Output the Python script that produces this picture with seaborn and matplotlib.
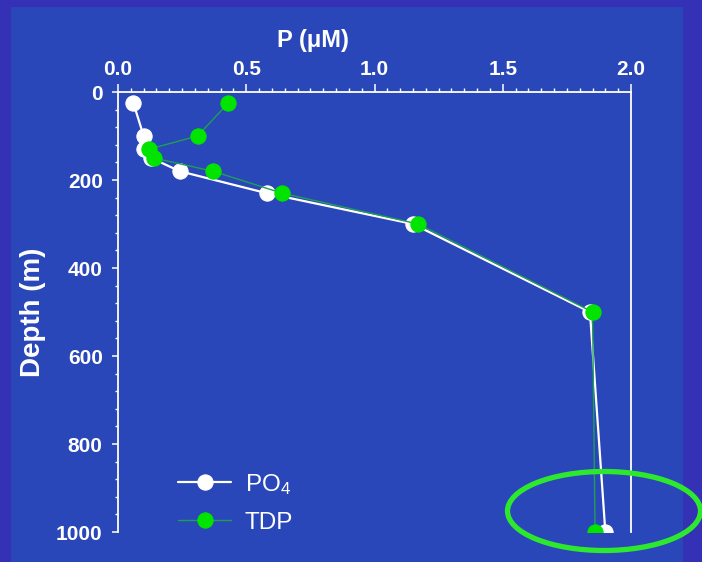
import matplotlib
matplotlib.use("Agg")
import matplotlib.pyplot as plt
from matplotlib.patches import Ellipse, Rectangle
from matplotlib.ticker import MultipleLocator
import seaborn as sns
import pandas as pd

# Phosphorus depth profile (P in µM vs depth in m)
depth_po4 = [25, 100, 130, 150, 180, 230, 300, 500, 1000]
po4 = [0.06, 0.10, 0.10, 0.13, 0.24, 0.58, 1.15, 1.84, 1.90]

depth_tdp = [25, 100, 130, 150, 180, 230, 300, 500, 1000]
tdp = [0.43, 0.31, 0.12, 0.14, 0.37, 0.64, 1.17, 1.85, 1.86]

x_ticks = [0.0, 0.5, 1.0, 1.5, 2.0]
x_tick_labels = ["0.0", "0.5", "1.0", "1.5", "2.0"]
y_ticks = [0, 200, 400, 600, 800, 1000]
y_tick_labels = ["0", "200", "400", "600", "800", "1000"]

sns.set_theme(style="white")
plt.rcParams["font.family"] = ["Liberation Sans", "DejaVu Sans"]
plt.rcParams["mathtext.fontset"] = "custom"
plt.rcParams["mathtext.rm"] = "Liberation Sans"
plt.rcParams["mathtext.it"] = "Liberation Sans"

W, H = 702, 562
fig = plt.figure(figsize=(W / 100, H / 100), dpi=100, facecolor="#3431b6")

# slide panel behind the chart
panel = Rectangle((11 / W, 0), (683 - 11) / W, 1 - 7 / H,
                  transform=fig.transFigure, facecolor="#2947b9",
                  edgecolor="none", zorder=-10)
fig.patches.append(panel)

ax = fig.add_axes([118 / W, 1 - 532 / H, 513 / W, 440 / H])
ax.set_zorder(1)
ax.set_facecolor("none")

df_po4 = pd.DataFrame({"P": po4, "Depth": depth_po4})
df_tdp = pd.DataFrame({"P": tdp, "Depth": depth_tdp})

sns.lineplot(data=df_tdp, x="P", y="Depth", sort=False, estimator=None, orient="y",
             color="#1f9e55", lw=1.0, marker="o", markersize=11,
             markerfacecolor="#00e400", markeredgecolor="#00e400", ax=ax,
             label="TDP", zorder=3)
sns.lineplot(data=df_po4, x="P", y="Depth", sort=False, estimator=None, orient="y",
             color="white", lw=1.6, marker="o", markersize=11,
             markerfacecolor="white", markeredgecolor="white", ax=ax,
             label="PO$_4$", zorder=2)

ax.set_xlim(0, 2.0)
ax.set_ylim(1000, 0)

ax.xaxis.tick_top()
ax.xaxis.set_label_position("top")
ax.set_xticks(x_ticks)
ax.set_xticklabels(x_tick_labels, fontweight="bold")
ax.set_yticks(y_ticks)
ax.set_yticklabels(y_tick_labels, fontweight="bold")
ax.xaxis.set_minor_locator(MultipleLocator(0.05))
ax.yaxis.set_minor_locator(MultipleLocator(40))

for side in ["top", "left", "right"]:
    ax.spines[side].set_color("white")
    ax.spines[side].set_linewidth(1.3)
ax.spines["bottom"].set_visible(False)

ax.tick_params(axis="x", which="major", direction="out", length=5.5, width=1.1,
               color="white", labelcolor="white", labelsize=15, pad=4,
               top=True, bottom=False)
ax.tick_params(axis="x", which="minor", direction="out", length=3, width=1.0,
               color="white", top=True, bottom=False)
ax.tick_params(axis="y", which="major", direction="out", length=4, width=1.1,
               color="white", labelcolor="white", labelsize=15, pad=7,
               left=True, right=False)
ax.tick_params(axis="y", which="minor", direction="out", length=2.5, width=1.0,
               color="white", left=True, right=False)

ax.set_xlabel("P (\u03bcM)", color="white", fontsize=17, fontweight="bold")
ax.xaxis.set_label_coords(195 / 513, 1 + 45 / 440)
ax.set_ylabel("Depth (m)", color="white", fontsize=20, fontweight="bold")
ax.yaxis.set_label_coords(-(118 - 46) / 513, 0.5)

handles, labels = ax.get_legend_handles_labels()
order = [labels.index("PO$_4$"), labels.index("TDP")]
leg = ax.legend([handles[i] for i in order], [labels[i] for i in order],
                loc="upper left", bbox_to_anchor=(178 / W, 1 - 472 / H),
                bbox_transform=fig.transFigure, frameon=False,
                fontsize=17.5, handlelength=2.2, handletextpad=0.55,
                labelspacing=0.62, borderpad=0, borderaxespad=0)
for t in leg.get_texts():
    t.set_color("white")

# highlight around the deepest samples
fig.patches.append(Ellipse((604 / W, 1 - 511 / H), 193 / W, 79 / H,
                           transform=fig.transFigure, facecolor="none",
                           edgecolor="#2ee82e", linewidth=3.8, zorder=5))

fig.savefig("out.png", dpi=100, facecolor=fig.get_facecolor())
